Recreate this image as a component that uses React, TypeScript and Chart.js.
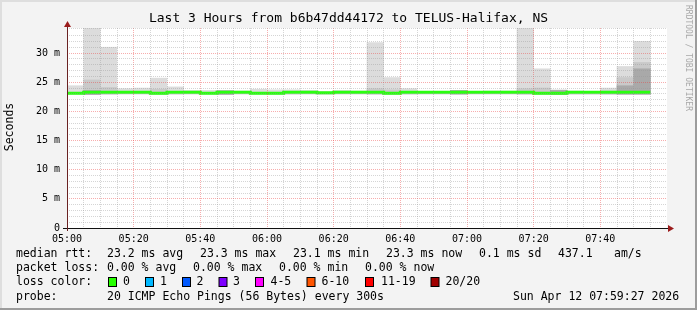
import React, { useEffect, useRef } from 'react';
import { Chart, registerables } from 'chart.js';

Chart.register(...registerables);

// ---- data ----
const intervalStart: number[] = [
  0, 5, 10, 15, 20, 25, 30, 35, 40, 45, 50, 55,
  60, 65, 70, 75, 80, 85, 90, 95, 100, 105, 110, 115,
  120, 125, 130, 135, 140, 145, 150, 155, 160, 165, 170,
];
const smokeMin: number[] = [
  22.95, 22.9, 22.95, 22.95, 22.95, 22.95, 22.9, 22.95, 22.95, 22.9, 22.95, 22.95,
  22.9, 22.9, 22.95, 22.9, 22.95, 22.95, 22.95, 22.95, 22.9, 22.95, 22.95, 22.95,
  22.95, 22.95, 22.95, 22.95, 22.95, 22.9, 22.9, 22.9, 22.95, 22.95, 22.95,
];
const smokeMax: number[] = [
  24.4, 34.6, 31.0, 23.9, 24.0, 25.7, 24.2, 23.6, 23.6, 23.6, 23.5, 23.8,
  23.7, 23.7, 23.6, 23.4, 23.6, 23.5, 31.8, 25.8, 23.9, 23.4, 23.3, 23.4,
  23.4, 23.5, 23.5, 34.6, 27.3, 23.7, 23.5, 23.3, 24.0, 27.7, 32.0,
];
const smokeMid: (number | null)[] = [
  null, 25.4, 24.1, null, null, 23.8, null, null, null, null, null, null,
  null, null, null, null, null, null, 23.9, 23.7, null, null, null, null,
  null, null, null, 23.9, 24.0, null, null, null, 23.5, 25.8, 28.4,
];
const smokeInner: (number | null)[] = [
  null, 23.6, null, null, null, null, null, null, null, 23.55, null, null,
  null, null, null, null, null, null, null, null, null, null, null, 23.6,
  null, null, null, null, null, 23.6, null, null, null, 24.4, 27.3,
];
const medianRtt: number[] = [
  23.28, 23.1, 23.28, 23.28, 23.28, 23.28, 23.12, 23.28, 23.28, 23.12, 23.28, 23.28,
  23.12, 23.12, 23.28, 23.28, 23.2, 23.28, 23.28, 23.28, 23.12, 23.28, 23.28, 23.28,
  23.28, 23.28, 23.28, 23.28, 23.28, 23.12, 23.12, 23.28, 23.28, 23.28, 23.28,
];
const xTickLabels: string[] = ['05:00', '05:20', '05:40', '06:00', '06:20', '06:40', '07:00', '07:20', '07:40'];
const yTickLabels: string[] = ['0', '5 m', '10 m', '15 m', '20 m', '25 m', '30 m'];

const lossLabels: string[] = ['0', '1', '2', '3', '4-5', '6-10', '11-19', '20/20'];
const lossColors: string[] = ['#26ff00', '#00b8ff', '#0059ff', '#7e00ff', '#ff00ff', '#ff5500', '#ff0000', '#a00000'];

const TITLE = 'Last 3 Hours from b6b47dd44172 to TELUS-Halifax, NS';
const MONO = '"DejaVu Sans Mono", monospace';

const decorPlugin = {
  id: 'decor',
  beforeDraw(chart: any) {
    const { ctx, chartArea: a, width, height } = chart;
    ctx.save();
    ctx.fillStyle = '#f3f3f3';
    ctx.fillRect(0, 0, width, height);
    // frame
    ctx.fillStyle = '#dedede';
    ctx.fillRect(0, 0, width, 2);
    ctx.fillRect(0, 0, 2, height);
    ctx.fillStyle = '#9c9c9c';
    ctx.fillRect(width - 2, 0, 2, height);
    ctx.fillRect(0, height - 2, width, 2);
    // canvas
    ctx.fillStyle = '#ffffff';
    ctx.fillRect(a.left, a.top, a.right - a.left, a.bottom - a.top);
    ctx.restore();
  },
  afterDraw(chart: any) {
    const { ctx, chartArea: a } = chart;
    ctx.save();
    // axes
    ctx.lineWidth = 1;
    ctx.strokeStyle = '#111111';
    ctx.beginPath();
    ctx.moveTo(a.left - 4, a.bottom + 0.5);
    ctx.lineTo(a.right + 2, a.bottom + 0.5);
    ctx.stroke();
    ctx.strokeStyle = '#6a2222';
    ctx.beginPath();
    ctx.moveTo(a.left + 0.5, a.bottom + 3);
    ctx.lineTo(a.left + 0.5, a.top - 2);
    ctx.stroke();
    ctx.fillStyle = '#9b1c1c';
    ctx.beginPath();
    ctx.moveTo(a.right + 1, a.bottom - 3);
    ctx.lineTo(a.right + 7, a.bottom + 0.5);
    ctx.lineTo(a.right + 1, a.bottom + 4);
    ctx.closePath();
    ctx.fill();
    ctx.beginPath();
    ctx.moveTo(a.left - 3, a.top - 1);
    ctx.lineTo(a.left + 0.5, a.top - 7);
    ctx.lineTo(a.left + 4, a.top - 1);
    ctx.closePath();
    ctx.fill();

    // title
    ctx.fillStyle = '#000000';
    ctx.textBaseline = 'middle';
    ctx.textAlign = 'center';
    ctx.font = `13px ${MONO}`;
    ctx.fillText(TITLE, 348.5, 19);

    // y title
    ctx.font = `11.5px ${MONO}`;
    ctx.save();
    ctx.translate(10, 127);
    ctx.rotate(-Math.PI / 2);
    ctx.fillText('Seconds', 0, 0);
    ctx.restore();

    // watermark
    ctx.save();
    ctx.fillStyle = '#a8a8a8';
    ctx.font = `8px ${MONO}`;
    ctx.textAlign = 'left';
    ctx.translate(688, 5);
    ctx.rotate(Math.PI / 2);
    ctx.fillText('RRDTOOL / TOBI OETIKER', 0, 0);
    ctx.restore();

    // legend
    ctx.textAlign = 'left';
    ctx.font = `11.5px ${MONO}`;
    const put = (x: number, y: number, s: string) => ctx.fillText(s, x, y);
    put(16, 254, 'median rtt:');
    put(107, 254, '23.2 ms avg');
    put(200, 254, '23.3 ms max');
    put(293, 254, '23.1 ms min');
    put(386, 254, '23.3 ms now');
    put(479, 254, '0.1 ms sd');
    put(558, 254, '437.1');
    put(614, 254, 'am/s');

    put(16, 268, 'packet loss:');
    put(107, 268, '0.00 % avg');
    put(193, 268, '0.00 % max');
    put(279, 268, '0.00 % min');
    put(365, 268, '0.00 % now');

    put(16, 282, 'loss color:');
    const boxX = [108, 145, 182, 218.5, 255, 306.5, 365, 430.5];
    const labX = [123, 160, 196.5, 233, 270.5, 321.5, 381, 445.5];
    lossLabels.forEach((lab, i) => {
      ctx.fillStyle = lossColors[i];
      ctx.fillRect(boxX[i] + 0.5, 278, 8, 8);
      ctx.strokeStyle = '#000000';
      ctx.lineWidth = 1;
      ctx.strokeRect(boxX[i] + 0.5, 277.5, 8, 9);
      ctx.fillStyle = '#000000';
      put(labX[i], 282, lab);
    });

    put(16, 297, 'probe:');
    put(107, 297, '20 ICMP Echo Pings (56 Bytes) every 300s');
    put(513, 297, 'Sun Apr 12 07:59:27 2026');
    ctx.restore();
  },
};

function floating(lo: number[], hi: (number | null)[]) {
  const out: { x: number; y: [number, number] }[] = [];
  intervalStart.forEach((t, i) => {
    const h = hi[i];
    if (h !== null && h !== undefined) out.push({ x: t + 2.5, y: [lo[i], h] });
  });
  return out;
}

export default function App() {
  const ref = useRef<HTMLCanvasElement | null>(null);

  useEffect(() => {
    document.body.style.margin = '0';
    const canvas = ref.current;
    if (!canvas) return;

    const medianPts = intervalStart.map((t, i) => ({ x: t, y: medianRtt[i] }));
    medianPts.push({ x: intervalStart[intervalStart.length - 1] + 5, y: medianRtt[medianRtt.length - 1] });

    const barCommon = {
      type: 'bar' as const,
      grouped: false,
      barPercentage: 1,
      categoryPercentage: 1,
      borderWidth: 0,
      borderSkipped: false,
    };

    const chart = new Chart(canvas, {
      type: 'bar',
      data: {
        datasets: [
          {
            type: 'line',
            label: 'median rtt',
            data: medianPts,
            borderColor: '#2aff10',
            borderWidth: 3,
            pointRadius: 0,
            stepped: 'after',
            fill: false,
          } as any,
          { ...barCommon, label: 'inner', data: floating(smokeMin, smokeInner), backgroundColor: '#a9a9a9' } as any,
          { ...barCommon, label: 'mid', data: floating(smokeMin, smokeMid), backgroundColor: '#c9c9c9' } as any,
          { ...barCommon, label: 'outer', data: floating(smokeMin, smokeMax), backgroundColor: '#dcdcdc' } as any,
        ],
      },
      options: {
        responsive: false,
        animation: false,
        devicePixelRatio: 1,
        layout: { padding: { left: 0, top: 28, right: 30, bottom: 0 } },
        plugins: { legend: { display: false }, tooltip: { enabled: false }, title: { display: false } },
        scales: {
          x: {
            type: 'linear',
            min: 0,
            max: 180,
            offset: false,
            afterFit: (s: any) => { s.height = 82; },
            grid: {
              z: 1,
              offset: false,
              drawTicks: false,
              lineWidth: 1,
              color: (c: any) => {
                const v = c.tick?.value;
                if (v === undefined || v <= 0 || v >= 180) return 'rgba(0,0,0,0)';
                return v % 20 === 0 ? 'rgba(235,60,60,0.42)' : 'rgba(150,150,150,0.4)';
              },
            },
            border: { display: false, dash: [1, 1] },
            ticks: {
              stepSize: 5,
              autoSkip: false,
              maxRotation: 0,
              padding: 5,
              color: '#000000',
              font: { family: MONO, size: 10 },
              callback: (v: any) => (v % 20 === 0 && v < 180 ? xTickLabels[v / 20] : ''),
            },
          },
          y: {
            type: 'linear',
            min: 0,
            max: 34.3,
            afterFit: (s: any) => { s.width = 67; },
            grid: {
              z: 1,
              drawTicks: false,
              lineWidth: 1,
              color: (c: any) => {
                const v = c.tick?.value;
                if (v === undefined || v <= 0) return 'rgba(0,0,0,0)';
                return Number.isInteger(v) && v % 5 === 0 ? 'rgba(235,60,60,0.42)' : 'rgba(150,150,150,0.4)';
              },
            },
            border: { display: false, dash: [1, 1] },
            ticks: {
              stepSize: 1,
              autoSkip: false,
              padding: 7,
              color: '#000000',
              font: { family: MONO, size: 10 },
              callback: (v: any) => (Number.isInteger(v) && v % 5 === 0 && v <= 30 ? yTickLabels[v / 5] : ''),
            },
          },
        },
      },
      plugins: [decorPlugin],
    } as any);

    return () => chart.destroy();
  }, []);

  return (
    <div style={{ width: 697, height: 310, position: 'relative' }}>
      <canvas ref={ref} width={697} height={310} style={{ display: 'block', width: 697, height: 310 }} />
    </div>
  );
}
